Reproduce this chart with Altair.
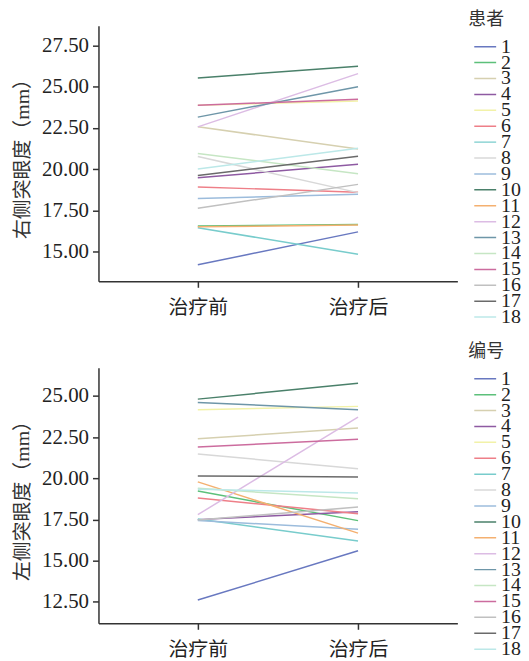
import altair as alt
import pandas as pd

patients = [str(i) for i in range(1, 19)]
times = ["治疗前", "治疗后"]

right_before = [14.20, 16.55, 22.57, 19.48, 23.88, 18.92, 16.45, 20.77, 18.22, 25.54,
                16.51, 22.57, 23.16, 20.96, 23.88, 17.63, 19.62, 20.02]
right_after = [16.20, 16.65, 21.23, 20.30, 24.14, 18.61, 14.84, 18.58, 18.48, 26.25,
               16.61, 25.80, 25.00, 19.72, 24.24, 19.08, 20.78, 21.27]

left_before = [12.61, 19.22, 22.39, 17.49, 24.16, 18.80, 17.53, 21.47, 17.43, 24.80,
               19.78, 17.79, 24.60, 19.40, 21.89, 17.47, 20.14, 19.34]
left_after = [15.60, 17.43, 23.05, 17.97, 24.36, 17.85, 16.20, 20.58, 16.91, 25.76,
              16.67, 23.71, 24.16, 18.75, 22.37, 18.25, 20.08, 19.10]

colors = ["#6878c0", "#5cc07a", "#d6d0b0", "#8e5aa2", "#f2f2a8", "#ee7f88",
          "#78cccc", "#d8d8d8", "#9cbcdc", "#4a806a", "#f4b070", "#dcbce4",
          "#6e96a8", "#c6e6c4", "#cc6c9e", "#c0c0c0", "#6a6a6a", "#bce8e8"]

def long_df(before, after):
    rows = []
    for p, b, a in zip(patients, before, after):
        rows.append({"id": p, "time": times[0], "value": b})
        rows.append({"id": p, "time": times[1], "value": a})
    return pd.DataFrame(rows)

FONT = "Liberation Serif, Noto Sans CJK SC"

def panel(df, domain, ticks, ytitle, ltitle, ly, tp):
    return alt.Chart(df).mark_line(strokeWidth=1.5).encode(
        x=alt.X("time:N", sort=times, title=None,
                scale=alt.Scale(type="point", padding=0.62),
                axis=alt.Axis(labelAngle=0, labelFontSize=20, labelPadding=10)),
        y=alt.Y("value:Q", title=ytitle,
                scale=alt.Scale(domain=domain, nice=False, zero=False),
                axis=alt.Axis(values=ticks, format=".2f", labelFontSize=21, labelPadding=4,
                              titleFontSize=20, titlePadding=9, grid=False)),
        color=alt.Color("id:N", sort=patients,
                        scale=alt.Scale(domain=patients, range=colors),
                        legend=alt.Legend(title=ltitle, orient="none", legendX=372, legendY=ly,
                                          symbolType="stroke", symbolSize=484,
                                          symbolStrokeWidth=1.5, symbolOffset=5,
                                          labelFontSize=20, clipHeight=12, rowPadding=-4,
                                          titleFontSize=18, titleFontWeight="normal",
                                          labelOffset=4, titlePadding=tp)),
        detail="id:N",
    ).properties(width=361, height=257)

top = panel(long_df(right_before, right_after), [13.2, 28.7],
            [15.0, 17.5, 20.0, 22.5, 25.0, 27.5], "右侧突眼度（mm）", "患者", -15, 12)
bottom = panel(long_df(left_before, left_after), [11.2, 26.7],
               [12.5, 15.0, 17.5, 20.0, 22.5, 25.0], "左侧突眼度（mm）", "编号", -25, 12)

chart = alt.vconcat(top, bottom, spacing=16).resolve_scale(color="independent").configure(
    font=FONT,
).configure_view(stroke=None).configure_axis(
    domainColor="#333333", domainWidth=1.5, tickColor="#333333", tickWidth=1.5, tickSize=6,
    labelColor="#222222", titleColor="#333333", labelFont=FONT, titleFont=FONT,
    titleFontWeight="normal",
).configure_legend(labelFont=FONT, titleFont=FONT, labelColor="#222222",
                   titleColor="#333333").properties(padding={"left": 4, "top": 1, "right": 0, "bottom": 0})

chart.save("out.html", embed_options={"renderer": "svg", "actions": False})
